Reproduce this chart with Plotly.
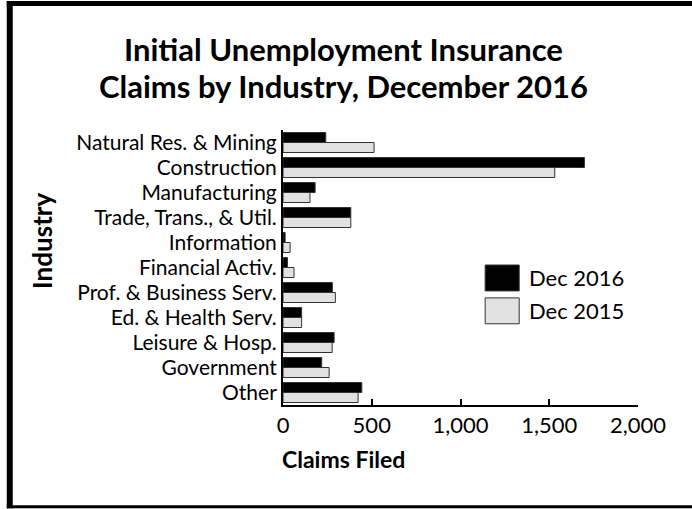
import plotly.graph_objects as go

industries = ["Natural Res. & Mining", "Construction", "Manufacturing",
              "Trade, Trans., & Util.", "Information", "Financial Activ.",
              "Prof. & Business Serv.", "Ed. & Health Serv.", "Leisure & Hosp.",
              "Government", "Other"]
dec_2016 = [241, 1698, 181, 382, 12, 25, 278, 105, 288, 218, 444]
dec_2015 = [513, 1531, 152, 382, 40, 62, 295, 105, 277, 260, 423]
x_ticks = [0, 500, 1000, 1500, 2000]

W, H = 692, 509
L, R, T, B = 283, 692 - 637.7, 129.5, 509 - 405.5
PW, PH = W - L - R, H - T - B

def px(x):
    return (x - L) / PW

def py(y):
    return (H - B - y) / PH

FONT = "Lato"

fig = go.Figure()
fig.add_trace(go.Bar(y=industries, x=dec_2016, orientation="h", name="Dec 2016",
                     marker=dict(color="#000000", line=dict(color="#333333", width=1))))
fig.add_trace(go.Bar(y=industries, x=dec_2015, orientation="h", name="Dec 2015",
                     marker=dict(color="#e1e1e1", line=dict(color="#333333", width=1))))

shapes = [
    # frame
    dict(type="rect", xref="paper", yref="paper", x0=px(7), x1=px(13), y0=py(509), y1=py(0),
         fillcolor="black", line=dict(width=0), layer="above"),
    dict(type="rect", xref="paper", yref="paper", x0=px(7), x1=px(692), y0=py(5), y1=py(0),
         fillcolor="black", line=dict(width=0), layer="above"),
    dict(type="rect", xref="paper", yref="paper", x0=px(7), x1=px(692), y0=py(509), y1=py(506),
         fillcolor="black", line=dict(width=0), layer="above"),
    # legend swatches
    dict(type="rect", xref="paper", yref="paper", x0=px(485), x1=px(519), y0=py(291), y1=py(265),
         fillcolor="black", line=dict(color="#333333", width=1)),
    dict(type="rect", xref="paper", yref="paper", x0=px(485), x1=px(519), y0=py(324), y1=py(298),
         fillcolor="#e1e1e1", line=dict(color="#333333", width=1)),
]

annotations = [
    dict(text="<b>Initial Unemployment Insurance</b>",
         xref="paper", yref="paper", x=px(343), y=py(48), xanchor="center", yanchor="middle",
         showarrow=False, font=dict(family=FONT, size=31, color="black")),
    dict(text="<b>Claims by Industry, December 2016</b>",
         xref="paper", yref="paper", x=px(343), y=py(85), xanchor="center", yanchor="middle",
         showarrow=False, font=dict(family=FONT, size=31, color="black")),
    dict(text="<b>Claims Filed</b>", xref="paper", yref="paper", x=px(343), y=py(460),
         xanchor="center", yanchor="middle", showarrow=False,
         font=dict(family=FONT, size=23, color="black")),
    dict(text="<b>Industry</b>", xref="paper", yref="paper", x=px(42), y=py(241),
         xanchor="center", yanchor="middle", showarrow=False, textangle=-90,
         font=dict(family=FONT, size=26, color="black")),
    dict(text="Dec 2016", xref="paper", yref="paper", x=px(527), y=py(278),
         xanchor="left", yanchor="middle", showarrow=False,
         font=dict(family=FONT, size=22, color="black")),
    dict(text="Dec 2015", xref="paper", yref="paper", x=px(527), y=py(311),
         xanchor="left", yanchor="middle", showarrow=False,
         font=dict(family=FONT, size=22, color="black")),
]

fig.update_layout(
    width=W, height=H,
    margin=dict(l=L, r=R, t=T, b=B, pad=0),
    paper_bgcolor="white", plot_bgcolor="white",
    barmode="group", bargap=0.2, bargroupgap=0,
    showlegend=False,
    font=dict(family=FONT, size=21, color="black"),
    shapes=shapes, annotations=annotations,
    xaxis=dict(range=[0, 2000], tickvals=x_ticks, tickformat=",", showgrid=False,
               zeroline=False, showline=True, linecolor="black", linewidth=2,
               ticks="inside", ticklen=6, tickwidth=2, tickcolor="black",
               tickfont=dict(family=FONT, size=22, color="black")),
    yaxis=dict(autorange="reversed", showgrid=False, zeroline=False, showline=True,
               linecolor="black", linewidth=2, ticks="", ticklabelstandoff=0,
               tickfont=dict(family=FONT, size=21, color="black")),
)

fig.write_html("out.html")
